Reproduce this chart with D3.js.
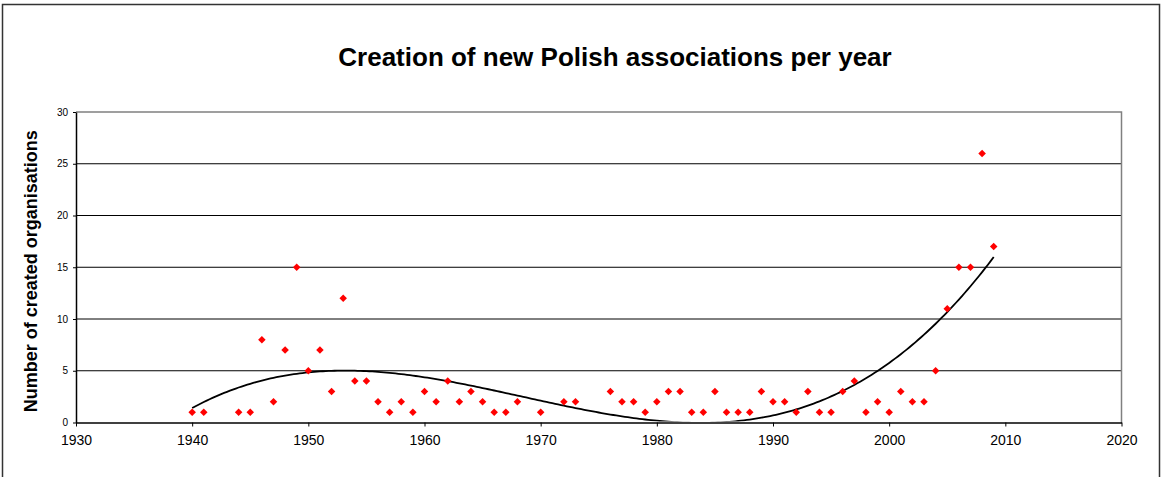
<!DOCTYPE html>
<html>
<head>
<meta charset="utf-8">
<script src="https://cdn.jsdelivr.net/npm/d3@7"></script>
<style>
	body { margin: 0; background: #fff; }
	svg { display: block; font-family: "Liberation Sans", Arial, sans-serif; }
</style>
</head>
<body>
<div id="chart"></div>
<script>
var years = [1940, 1941, 1944, 1945, 1946, 1947, 1948, 1949, 1950, 1951, 1952, 1953, 1954, 1955, 1956, 1957, 1958, 1959,
	1960, 1961, 1962, 1963, 1964, 1965, 1966, 1967, 1968, 1970, 1972, 1973, 1976, 1977, 1978, 1979,
	1980, 1981, 1982, 1983, 1984, 1985, 1986, 1987, 1988, 1989, 1990, 1991, 1992, 1993, 1994, 1995, 1996, 1997, 1998, 1999,
	2000, 2001, 2002, 2003, 2004, 2005, 2006, 2007, 2008, 2009];
var counts = [1, 1, 1, 1, 8, 2, 7, 15, 5, 7, 3, 12, 4, 4, 2, 1, 2, 1,
	3, 2, 4, 2, 3, 2, 1, 1, 2, 1, 2, 2, 3, 2, 2, 1,
	2, 3, 3, 1, 1, 3, 1, 1, 1, 3, 2, 2, 1, 3, 1, 1, 3, 4, 1, 2,
	1, 3, 2, 2, 5, 11, 15, 15, 26, 17];
var xTicks = [1930, 1940, 1950, 1960, 1970, 1980, 1990, 2000, 2010, 2020];
var yTicks = [0, 5, 10, 15, 20, 25, 30];
var titleText = "Creation of new Polish associations per year";
var yTitleText = "Number of created organisations";

var W = 1161, H = 477;
var plot = { left: 76, right: 1121.5, top: 112, bottom: 422.5 };

var svg = d3.select("#chart").append("svg")
	.attr("width", W)
	.attr("height", H);

// outer chart frame
svg.append("rect")
	.attr("x", 2.5).attr("y", 4.5)
	.attr("width", 1157).attr("height", H + 10)
	.attr("fill", "#fff")
	.attr("stroke", "#333")
	.attr("stroke-width", 1.5);

var x = d3.scaleLinear().domain([1930, 2020]).range([plot.left, plot.right]);
var y = d3.scaleLinear().domain([0, 30]).range([plot.bottom, plot.top]);

// gridlines
svg.append("g")
	.selectAll("line")
	.data(yTicks.filter(function(d){ return d > 0 && d < 30; }))
	.enter().append("line")
	.attr("x1", plot.left).attr("x2", plot.right)
	.attr("y1", function(d){ return y(d); })
	.attr("y2", function(d){ return y(d); })
	.attr("stroke", "#000")
	.attr("stroke-width", 1);

// plot area border (top + right)
svg.append("path")
	.attr("d", "M" + plot.left + "," + y(30) + "H" + plot.right + "V" + plot.bottom)
	.attr("fill", "none")
	.attr("stroke", "#808080")
	.attr("stroke-width", 1.5);

// axes
var xAxis = d3.axisBottom(x).tickValues(xTicks).tickFormat(d3.format("d")).tickSize(4).tickSizeOuter(0).tickPadding(9);
var gx = svg.append("g")
	.attr("transform", "translate(0," + plot.bottom + ")")
	.call(xAxis);
gx.select(".domain").attr("stroke", "#000").attr("stroke-width", 1.5);
gx.selectAll(".tick line").attr("stroke", "#000");
gx.selectAll(".tick text")
	.attr("font-size", "14px")
	.attr("font-family", "Liberation Sans, Arial, sans-serif")
	.attr("fill", "#000");

var yAxis = d3.axisLeft(y).tickValues(yTicks).tickSize(3).tickSizeOuter(0).tickPadding(5);
var gy = svg.append("g")
	.attr("transform", "translate(" + plot.left + ",0)")
	.call(yAxis);
gy.select(".domain").attr("stroke", "#000").attr("stroke-width", 1.5);
gy.selectAll(".tick line").attr("stroke", "#000");
gy.selectAll(".tick text")
	.attr("font-size", "10px")
	.attr("font-family", "Liberation Sans, Arial, sans-serif")
	.attr("fill", "#000");

// cubic least-squares trendline computed from the data
function polyFit(xs, ys, order) {
	var n = order + 1;
	var A = [];
	for (var i = 0; i < n; i++) {
		A.push([]);
		for (var j = 0; j <= n; j++) A[i].push(0);
	}
	for (var k = 0; k < xs.length; k++) {
		var t = (xs[k] - 1970) / 10;
		for (var i = 0; i < n; i++) {
			for (var j = 0; j < n; j++) A[i][j] += Math.pow(t, i + j);
			A[i][n] += ys[k] * Math.pow(t, i);
		}
	}
	for (var c = 0; c < n; c++) {
		var p = c;
		for (var r = c + 1; r < n; r++) if (Math.abs(A[r][c]) > Math.abs(A[p][c])) p = r;
		var tmp = A[c]; A[c] = A[p]; A[p] = tmp;
		for (var r = 0; r < n; r++) {
			if (r === c) continue;
			var f = A[r][c] / A[c][c];
			for (var j = c; j <= n; j++) A[r][j] -= f * A[c][j];
		}
	}
	var coef = [];
	for (var i = 0; i < n; i++) coef.push(A[i][n] / A[i][i]);
	return function(xv) {
		var t = (xv - 1970) / 10, s = 0;
		for (var i = 0; i < n; i++) s += coef[i] * Math.pow(t, i);
		return s;
	};
}

var trend = polyFit(years, counts, 3);
var trendPts = d3.range(years[0], years[years.length - 1] + 0.001, 0.25).map(function(d){ return [d, trend(d)]; });

svg.append("clipPath").attr("id", "plotClip")
	.append("rect")
	.attr("x", plot.left).attr("y", plot.top)
	.attr("width", plot.right - plot.left).attr("height", plot.bottom - plot.top - 1);

var line = d3.line()
	.x(function(d){ return x(d[0]); })
	.y(function(d){ return y(d[1]); });

svg.append("path")
	.datum(trendPts)
	.attr("clip-path", "url(#plotClip)")
	.attr("d", line)
	.attr("fill", "none")
	.attr("stroke", "#000")
	.attr("stroke-width", 1.8);

// red diamond markers
var diamond = d3.symbol().type(d3.symbolDiamond2).size(36);
svg.append("g")
	.selectAll("path")
	.data(years)
	.enter().append("path")
	.attr("d", diamond)
	.attr("transform", function(d, i){ return "translate(" + x(d) + "," + y(counts[i]) + ")"; })
	.attr("fill", "#ff0000");

// titles
svg.append("text")
	.attr("x", 615).attr("y", 66)
	.attr("text-anchor", "middle")
	.attr("font-size", "26px")
	.attr("font-weight", "bold")
	.text(titleText);

svg.append("text")
	.attr("transform", "translate(37," + ((plot.top + plot.bottom) / 2 + 4) + ") rotate(-90)")
	.attr("text-anchor", "middle")
	.attr("font-size", "18px")
	.attr("font-weight", "bold")
	.text(yTitleText);
</script>
</body>
</html>
